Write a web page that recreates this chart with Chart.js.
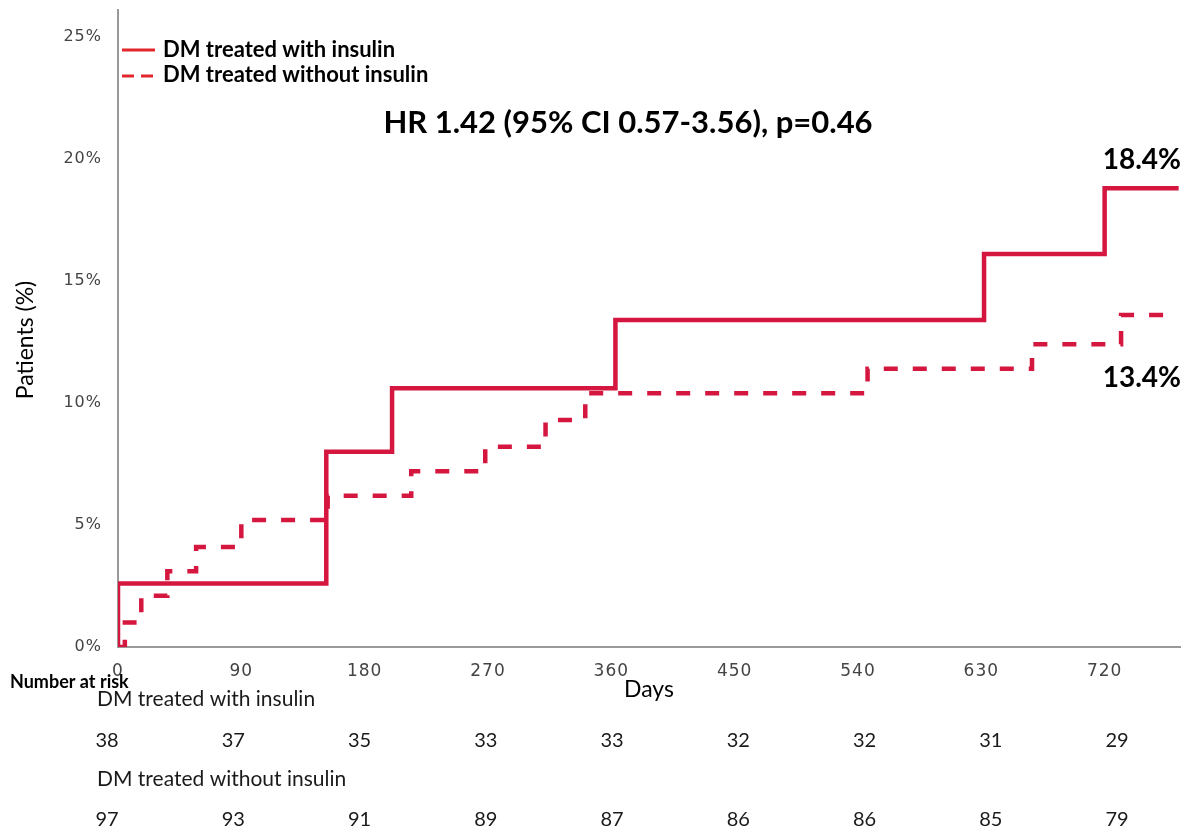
<!DOCTYPE html>
<html>
<head>
<meta charset="utf-8">
<script src="https://cdn.jsdelivr.net/npm/chart.js@4/dist/chart.umd.min.js"></script>
<style>
  html, body { margin: 0; padding: 0; background: #fff; }
  #wrap { width: 1187px; height: 832px; }
</style>
</head>
<body>
<div id="wrap"><canvas id="km" width="1187" height="832"></canvas></div>
<script>
// step curves, cumulative % of patients
const insulinDays = [0, 0, 152, 200, 363, 632, 720, 774];
const insulinPct = [0, 2.6, 8.0, 10.6, 13.4, 16.1, 18.8, 18.8];
const noInsulinDays = [0, 5, 17, 36, 57, 90, 153, 214, 268, 312, 341, 547, 667, 732, 768];
const noInsulinPct = [0, 1.0, 2.1, 3.1, 4.1, 5.2, 6.2, 7.2, 8.2, 9.3, 10.4, 11.4, 12.4, 13.6, 13.6];

const seriesNames = ['DM treated with insulin', 'DM treated without insulin'];
const riskDays = [0, 90, 180, 270, 360, 450, 540, 630, 720];
const riskInsulin = [38, 37, 35, 33, 33, 32, 32, 31, 29];
const riskNoInsulin = [97, 93, 91, 89, 87, 86, 86, 85, 79];

const hrText = 'HR 1.42 (95% CI 0.57-3.56), p=0.46';
const endLabels = ['18.4%', '13.4%'];

const LINE = '#d5163f';
const LEGEND_RED = '#e3262c';
const FONT = 'Lato, "Open Sans", sans-serif';

const toPoints = (xs, ys) => xs.map((x, i) => ({ x, y: ys[i] }));

// spaced-out tick labels, like the SPSS output
const tickSpacing = {
  id: 'tickSpacing',
  beforeDraw(chart) { chart.ctx.letterSpacing = '1px'; },
  beforeDatasetsDraw(chart) { chart.ctx.letterSpacing = '0px'; },
};

const overlay = {
  id: 'overlay',
  afterDraw(chart) {
    const { ctx, scales: { x } } = chart;
    ctx.save();
    ctx.letterSpacing = '0px';

    // legend
    ctx.lineWidth = 3;
    ctx.strokeStyle = LEGEND_RED;
    ctx.beginPath();
    ctx.moveTo(122, 50); ctx.lineTo(155, 50);
    ctx.stroke();
    ctx.beginPath();
    ctx.moveTo(122, 76); ctx.lineTo(134, 76);
    ctx.moveTo(141, 76); ctx.lineTo(153, 76);
    ctx.stroke();
    ctx.fillStyle = '#000';
    ctx.font = 'bold 22px ' + FONT;
    ctx.textBaseline = 'middle';
    ctx.textAlign = 'left';
    ctx.fillText(seriesNames[0], 163, 50);
    ctx.fillText(seriesNames[1], 163, 75);

    // HR annotation and end labels
    ctx.font = 'bold 31px ' + FONT;
    ctx.textAlign = 'center';
    ctx.fillText(hrText, 628, 123);
    ctx.font = 'bold 28px ' + FONT;
    ctx.textAlign = 'right';
    ctx.fillText(endLabels[0], 1181, 160);
    ctx.fillText(endLabels[1], 1181, 378);

    // axis titles
    ctx.font = '23px ' + FONT;
    ctx.textAlign = 'center';
    ctx.fillText('Days', 649, 690);
    ctx.save();
    ctx.translate(26, 340);
    ctx.rotate(-Math.PI / 2);
    ctx.fillText('Patients (%)', 0, 0);
    ctx.restore();

    // number at risk table
    ctx.textAlign = 'left';
    ctx.font = 'bold 18px ' + FONT;
    ctx.fillText('Number at risk', 10, 682);
    ctx.font = '21px ' + FONT;
    ctx.fillStyle = '#1a1a1a';
    ctx.fillText(seriesNames[0], 97, 699);
    ctx.fillText(seriesNames[1], 97, 779);
    ctx.textAlign = 'center';
    ctx.font = '20px ' + FONT;
    const x0 = x.getPixelForValue(riskDays[0]);
    const x1 = x.getPixelForValue(riskDays[riskDays.length - 1]);
    riskDays.forEach((d, i) => {
      const px = 107 + (x.getPixelForValue(d) - x0) * (1010 / (x1 - x0));
      ctx.fillText(String(riskInsulin[i]), px, 741);
      ctx.fillText(String(riskNoInsulin[i]), px, 820);
    });

    ctx.restore();
  },
};

const ctx = document.getElementById('km').getContext('2d');
new Chart(ctx, {
  type: 'line',
  data: {
    datasets: [
      {
        label: seriesNames[0],
        data: toPoints(insulinDays, insulinPct),
        borderColor: LINE,
        borderWidth: 4.5,
        stepped: true,
        pointRadius: 0,
        fill: false,
      },
      {
        label: seriesNames[1],
        data: toPoints(noInsulinDays, noInsulinPct),
        borderColor: LINE,
        borderWidth: 4.5,
        borderDash: [14, 15],
        stepped: true,
        pointRadius: 0,
        fill: false,
      },
    ],
  },
  options: {
    responsive: false,
    animation: false,
    maintainAspectRatio: false,
    layout: { padding: { left: 0, right: 7, top: 10, bottom: 0 } },
    plugins: {
      legend: { display: false },
      tooltip: { enabled: false },
    },
    scales: {
      x: {
        type: 'linear',
        min: 0,
        max: 775,
        afterFit(scale) {
          scale.height = 185;
          scale.paddingRight = 0;
        },
        grid: { display: false },
        border: { display: true, color: '#999', width: 2 },
        ticks: {
          stepSize: 90,
          includeBounds: false,
          autoSkip: false,
          maxRotation: 0,
          padding: 6,
          color: '#444',
          font: { family: '"DejaVu Sans"', size: 17 },
        },
      },
      y: {
        min: 0,
        max: 26.1,
        afterFit(scale) {
          scale.width = 118;
          scale.paddingTop = 0;
          scale.paddingBottom = 0;
        },
        grid: { display: false },
        border: { display: true, color: '#999', width: 2 },
        ticks: {
          stepSize: 5,
          includeBounds: false,
          padding: 8,
          color: '#444',
          font: { family: '"DejaVu Sans"', size: 16 },
          callback: (v) => v + '%',
        },
      },
    },
  },
  plugins: [tickSpacing, overlay],
});
</script>
</body>
</html>
